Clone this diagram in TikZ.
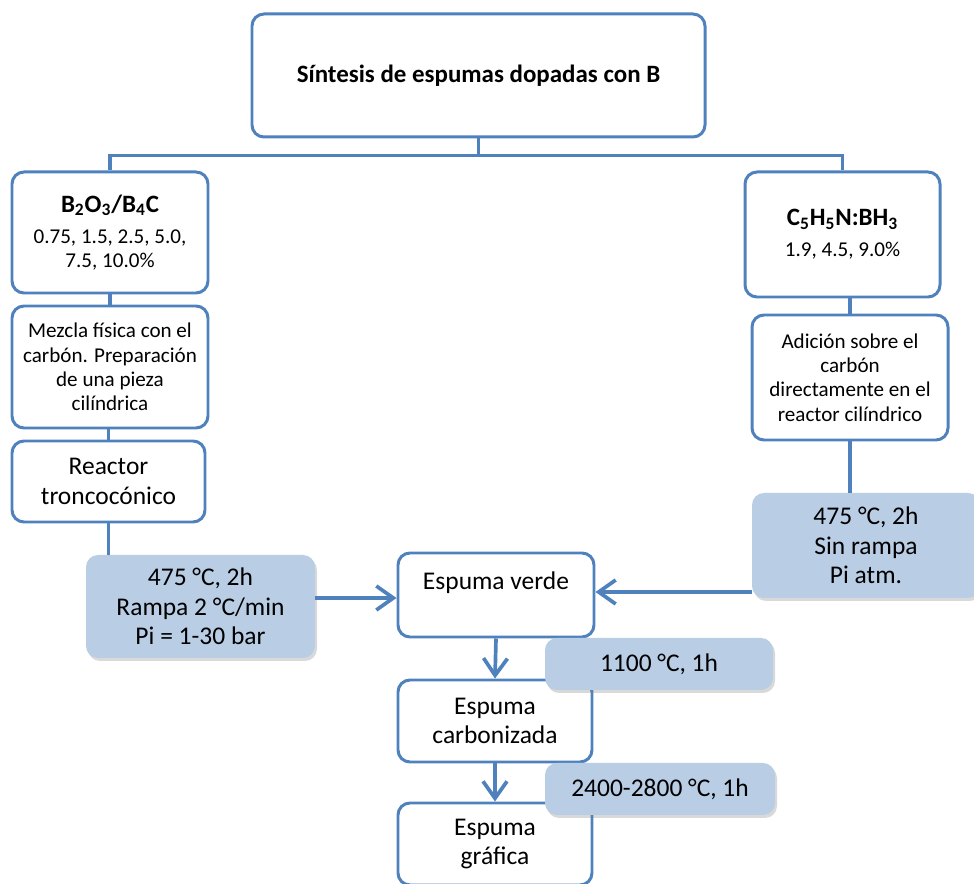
\documentclass[tikz,border=0pt]{standalone}
\usepackage{fontspec}
\setmainfont{Carlito}
\usetikzlibrary{arrows.meta, shadows, calc}
\definecolor{boxblue}{HTML}{4F81BD}
\definecolor{condfill}{HTML}{B9CDE5}
\newcommand{\mainsz}{\fontsize{14.5}{16.8}\selectfont}
\newcommand{\titlesz}{\fontsize{14.2}{16.5}\selectfont}
\newcommand{\smallsz}{\fontsize{12}{13.8}\selectfont}

\begin{document}
\begin{tikzpicture}[
    box/.style={draw=boxblue, line width=1.7pt, rounded corners=0.24cm, fill=white, align=center, inner sep=2pt},
    cond/.style={fill=condfill, rounded corners=0.24cm, align=center, inner sep=2pt, font=\mainsz,
      drop shadow={opacity=0.3, shadow xshift=0.04cm, shadow yshift=-0.06cm}},
    link/.style={draw=boxblue, line width=2.1pt},
    >={Straight Barb[length=3.4mm, width=4.8mm]}
  ]
  \useasboundingbox (0,0) rectangle (19.48,-17.68);

  \node[box, minimum width=9.06cm, minimum height=2.46cm, font=\titlesz\bfseries] (title) at (9.57,-1.51) {Síntesis de espumas dopadas con B};

  \node[box, minimum width=3.92cm, minimum height=2.42cm, font=\smallsz] (b2o3) at (2.2,-4.65)
    {{\titlesz\bfseries B\textsubscript{2}O\textsubscript{3}/B\textsubscript{4}C}\\[4pt] 0.75, 1.5, 2.5, 5.0,\\ 7.5, 10.0\%};
  \node[box, minimum width=3.92cm, minimum height=2.44cm, font=\smallsz] (mezcla) at (2.2,-7.34)
    {Mezcla física con el\\ carbón. Preparación\\ de una pieza\\ cilíndrica};
  \node[box, minimum width=3.86cm, minimum height=1.62cm, font=\mainsz] (reactor) at (2.17,-9.63) {Reactor\\ troncocónico};

  \node[box, minimum width=3.9cm, minimum height=2.5cm, font=\smallsz] (c5) at (16.85,-4.69)
    {{\titlesz\bfseries C\textsubscript{5}H\textsubscript{5}N:BH\textsubscript{3}}\\[4pt] 1.9, 4.5, 9.0\%};
  \node[box, minimum width=3.92cm, minimum height=2.5cm, font=\smallsz] (adicion) at (17.0,-7.55)
    {Adición sobre el\\ carbón\\ directamente en el\\ reactor cilíndrico};

  \node[box, minimum width=3.92cm, minimum height=1.68cm, font=\mainsz] (verde) at (9.92,-11.9) {Espuma verde\\ \mbox{}};
  \node[box, minimum width=3.88cm, minimum height=1.64cm, font=\mainsz] (carbon) at (9.9,-14.42) {Espuma\\ carbonizada};
  \node[box, minimum width=3.88cm, minimum height=1.64cm, font=\mainsz] (grafica) at (9.9,-16.88) {Espuma\\ gráfica};

  \node[cond, minimum width=4.58cm, minimum height=2.06cm] (cond1) at (4.01,-12.13) {475 °C, 2h\\ Rampa 2 °C/min\\ Pi = 1-30 bar};
  \node[cond, minimum width=4.56cm, minimum height=2.1cm] (cond2) at (17.32,-10.91) {475 °C, 2h\\ Sin rampa\\ Pi atm.};
  \node[cond, minimum width=4.56cm, minimum height=1.04cm] (cond3) at (13.18,-13.28) {1100 °C, 1h};
  \node[cond, minimum width=4.6cm, minimum height=1.04cm] (cond4) at (13.2,-15.78) {2400-2800 °C, 1h};

  \draw[link] (title.south) -- ++(0,-0.34) coordinate (split) -| (b2o3.north);
  \draw[link] (split) -| (c5.north);
  \draw[link] (b2o3.south) -- (mezcla.north);
  \draw[link] (reactor.north |- mezcla.south) -- (reactor.north);
  \draw[link] (reactor.south) -- (reactor.south |- cond1.north);
  \draw[link] (adicion.north) -- (adicion.north |- c5.south);
  \draw[link] (adicion.south) -- (adicion.south |- cond2.north);
  \draw[link, ->] ($(cond1.east |- verde.west)+(0,-0.06)$) -- ($(verde.west)+(0,-0.06)$);
  \draw[link, ->] ($(cond2.west |- verde.east)+(0,0.06)$) -- ($(verde.east)+(0,0.06)$);
  \draw[link, ->] (verde.south) -- (carbon.north);
  \draw[link, ->] (carbon.south) -- (grafica.north);
\end{tikzpicture}
\end{document}
